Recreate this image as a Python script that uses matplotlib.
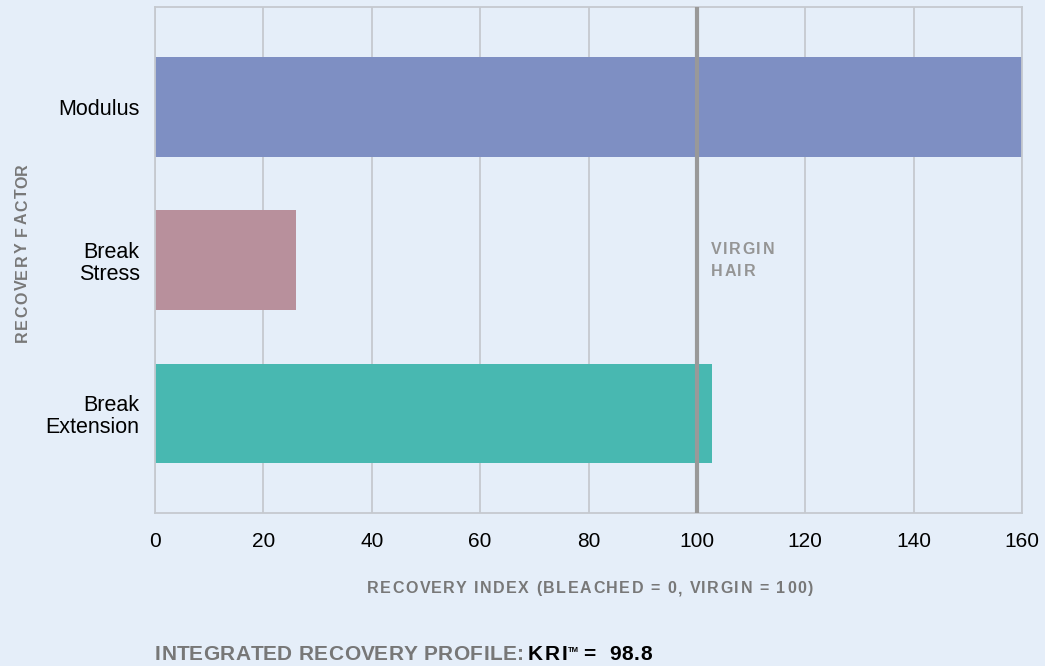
import matplotlib
matplotlib.use("Agg")
import matplotlib.pyplot as plt

# === Chart data ===
factors = ["Modulus", "Break\nStress", "Break\nExtension"]
recovery = [160, 26, 102.7]
bar_colors = ["#7E8FC3", "#B8909C", "#48B8B1"]
virgin_level = 100
x_ticks = [0, 20, 40, 60, 80, 100, 120, 140, 160]
kri_value = 98.8

BG = "#E5EEF9"
GRID = "#C5C9CF"
LABEL_GRAY = "#787878"
W, H = 1045, 666

plt.rcParams["font.family"] = ["Liberation Sans", "DejaVu Sans"]

fig = plt.figure(figsize=(W / 100, H / 100), dpi=100, facecolor=BG)
ax = fig.add_axes([155 / W, 1 - 513 / H, 867 / W, 506 / H], facecolor=BG)
renderer = fig.canvas.get_renderer()


def char_width(ch, **kw):
    # advance width of one character (works for spaces too)
    t1 = fig.text(0, 0, "a" + ch + "a", **kw)
    t2 = fig.text(0, 0, "aa", **kw)
    w = t1.get_window_extent(renderer).width - t2.get_window_extent(renderer).width
    t1.remove()
    t2.remove()
    return w


def tracked_text(x, y, s, width, ha="left", vertical=False, **kw):
    """Letter-spaced text stretched to `width` px; x, y in px from bottom-left."""
    widths = [char_width(ch, **kw) for ch in s]
    tracking = (width - sum(widths)) / max(len(s) - 1, 1)
    start = {"left": 0, "center": width / 2, "right": width}[ha]
    pos = (y if vertical else x) - start
    for ch, w in zip(s, widths):
        if ch != " ":
            if vertical:
                fig.text(x / W, pos / H, ch, rotation=90, rotation_mode="anchor",
                         ha="left", va="baseline", **kw)
            else:
                fig.text(pos / W, y / H, ch, ha="left", va="baseline", **kw)
        pos += w + tracking
    return pos - tracking


ypos = list(range(len(factors)))
ax.barh(ypos, recovery, height=0.65, color=bar_colors, zorder=2)

# reference line for virgin hair
ax.axvline(virgin_level, color="#999999", linewidth=3, zorder=3)
virgin_kw = dict(fontsize=11.5, fontweight="bold", color="#959595")
tracked_text(711, H - 254, "VIRGIN", 63, **virgin_kw)
tracked_text(711, H - 276, "HAIR", 44, **virgin_kw)

ax.set_xlim(0, 160)
ax.set_ylim(2.65, -0.65)
ax.set_xticks(x_ticks)
ax.set_xticklabels([str(t) for t in x_ticks], fontsize=15)
ax.set_yticks(ypos)
ax.set_yticklabels(factors, fontsize=15.5, linespacing=1.1)
ax.tick_params(axis="x", length=0, pad=14, colors="black")
ax.tick_params(axis="y", length=0, pad=11, colors="black")

ax.grid(axis="x", color=GRID, linewidth=1.3, zorder=1)
ax.grid(axis="y", visible=False)
for side in ["top", "bottom", "left", "right"]:
    ax.spines[side].set_color(GRID)
    ax.spines[side].set_linewidth(1.3)

# axis titles (letter-spaced)
label_kw = dict(fontsize=11.5, fontweight="bold", color=LABEL_GRAY)
tracked_text(590, H - 593, "RECOVERY INDEX (BLEACHED = 0, VIRGIN = 100)", 446,
             ha="center", **label_kw)
tracked_text(27, H - 342, "RECOVERY FACTOR", 179, vertical=True, **label_kw)

# summary line under the chart
sum_kw = dict(fontsize=15, fontweight="bold")
tracked_text(155, H - 660, "INTEGRATED RECOVERY PROFILE:", 369, color="#777777", **sum_kw)
tracked_text(528, H - 660, "KRI", 39, color="black", **sum_kw)
fig.text(567.5 / W, (H - 652) / H, "TM", fontsize=5.5, fontweight="bold",
         color="black", ha="left", va="baseline")
tracked_text(583, H - 660, "=  " + str(kri_value), 69, color="black", **sum_kw)

fig.savefig("out.png", dpi=100, facecolor=BG)
